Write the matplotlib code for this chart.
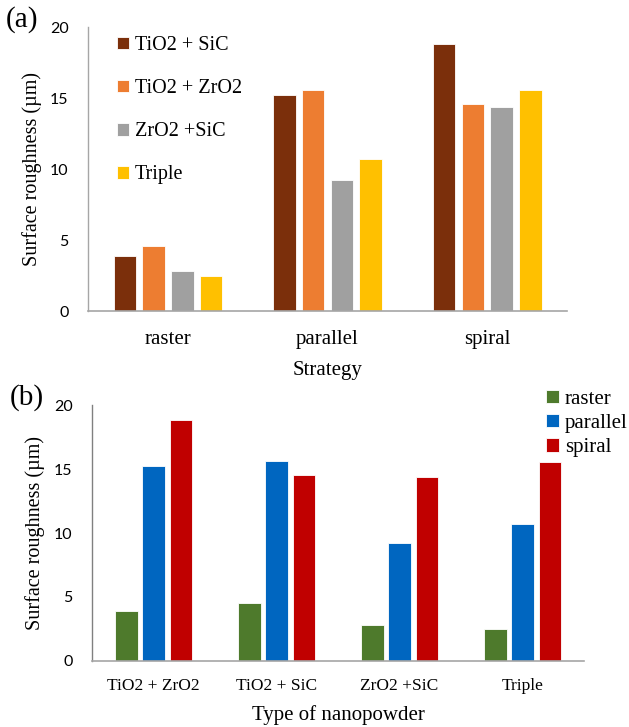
import matplotlib
matplotlib.use("Agg")
import matplotlib.pyplot as plt
import numpy as np

# ---- data ----
strategies = ["raster", "parallel", "spiral"]
powders_a = ["TiO2 + SiC", "TiO2 + ZrO2", "ZrO2 +SiC", "Triple"]
vals_a = {
    "TiO2 + SiC": [3.9, 15.2, 18.8],
    "TiO2 + ZrO2": [4.55, 15.6, 14.55],
    "ZrO2 +SiC": [2.8, 9.2, 14.35],
    "Triple": [2.5, 10.7, 15.55],
}
powders_b = ["TiO2 + ZrO2", "TiO2 + SiC", "ZrO2 +SiC", "Triple"]
raster_b = [3.9, 4.55, 2.8, 2.5]
parallel_b = [15.2, 15.6, 9.2, 10.7]
spiral_b = [18.8, 14.55, 14.35, 15.55]
yticks = [0, 5, 10, 15, 20]

colors_a = ["#7B2F0B", "#ED7D31", "#A0A0A0", "#FFC000"]
colors_b = ["#4E7A2C", "#0066C0", "#C00000"]

SERIF = ["Liberation Serif", "DejaVu Serif"]
SANS = ["Lato", "DejaVu Sans"]

fig = plt.figure(figsize=(6.29, 7.27), dpi=100)

def style_axes(ax, ylim):
    ax.set_ylim(*ylim)
    ax.set_yticks(yticks)
    for s in ["top", "right"]:
        ax.spines[s].set_visible(False)
    ax.spines["left"].set_color("#A6A6A6")
    ax.spines["bottom"].set_color("#A6A6A6")
    ax.spines["left"].set_linewidth(1.0)
    ax.spines["bottom"].set_linewidth(1.2)
    ax.tick_params(axis="both", length=0)
    ax.tick_params(axis="y", pad=14)
    for lbl in ax.get_yticklabels():
        lbl.set_fontfamily(SANS)
        lbl.set_fontsize(11.5)

# ---- panel (a) ----
ax1 = fig.add_axes([0.140, 0.5722, 0.7615, 0.3906])
x = np.arange(len(strategies))
w = 0.141
offs = [-0.27, -0.09, 0.09, 0.27]
for i, p in enumerate(powders_a):
    ax1.bar(x + offs[i], vals_a[p], width=w, color=colors_a[i],
            edgecolor="white", linewidth=0.6, label=p)
ax1.set_xlim(-0.5, len(strategies) - 0.5)
style_axes(ax1, (0, 20))
ax1.set_xticks(x)
ax1.set_xticklabels(strategies, fontfamily=SERIF, fontsize=15)
ax1.tick_params(axis="x", pad=14)
ax1.set_xlabel("Strategy", fontfamily=SERIF, fontsize=15, labelpad=8)
ax1.set_ylabel("Surface roughness (µm)", fontfamily=SERIF, fontsize=14.5, labelpad=6)
leg1 = fig.legend(*ax1.get_legend_handles_labels(), loc="upper left",
                  bbox_to_anchor=(117 / 629, 1 - 36 / 727), frameon=False,
                  prop={"family": SERIF, "size": 14.5}, labelspacing=1.2,
                  handlelength=0.6, handleheight=0.6, handletextpad=0.3,
                  borderaxespad=0, borderpad=0)

# ---- panel (b) ----
ax2 = fig.add_axes([0.1463, 0.0908, 0.7822, 0.3521])
x2 = np.arange(len(powders_b))
w2 = 0.18
offs2 = [-0.22, 0.0, 0.22]
series_b = [("raster", raster_b), ("parallel", parallel_b), ("spiral", spiral_b)]
for i, (name, vals) in enumerate(series_b):
    ax2.bar(x2 + offs2[i], vals, width=w2, color=colors_b[i],
            edgecolor="white", linewidth=0.6, label=name)
ax2.set_xlim(-0.5, len(powders_b) - 0.5)
style_axes(ax2, (0, 20))
ax2.spines["left"].set_color("#808080")
ax2.set_xticks(x2)
ax2.set_xticklabels(powders_b, fontfamily=SERIF, fontsize=12.5)
ax2.tick_params(axis="x", pad=12)
ax2.set_xlabel("Type of nanopowder", fontfamily=SERIF, fontsize=15, labelpad=8)
ax2.set_ylabel("Surface roughness (µm)", fontfamily=SERIF, fontsize=14.5, labelpad=6)
leg2 = fig.legend(*ax2.get_legend_handles_labels(), loc="upper left",
                  bbox_to_anchor=(546 / 629, 1 - 390 / 727), frameon=False,
                  prop={"family": SERIF, "size": 15}, labelspacing=0.25,
                  handlelength=0.6, handleheight=0.6, handletextpad=0.3,
                  borderaxespad=0, borderpad=0)

fig.text(6 / 629, 1 - 20 / 727, "(a)", fontfamily=SERIF, fontsize=21, va="center", ha="left")
fig.text(10 / 629, 1 - 398 / 727, "(b)", fontfamily=SERIF, fontsize=21, va="center", ha="left")

fig.savefig("out.png", dpi=100)
